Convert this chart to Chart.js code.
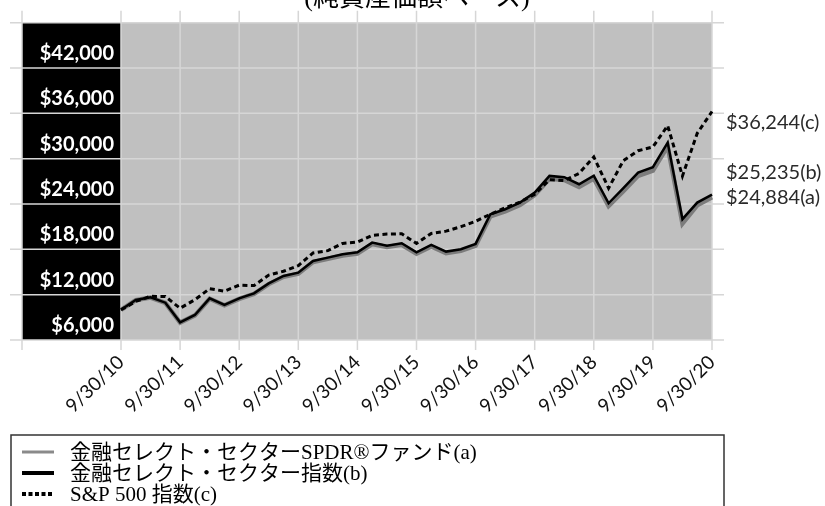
<!DOCTYPE html>
<html lang="ja">
<head>
<meta charset="utf-8">
<script src="https://cdn.jsdelivr.net/npm/chart.js@4.4.1/dist/chart.umd.min.js"></script>
<style>
    html, body { margin: 0; padding: 0; background: #fff; }
    #box { position: relative; width: 825px; height: 506px; }
</style>
</head>
<body>
<div id="box"><canvas id="chart"></canvas></div>
<script>
// quarterly dates, 9/30/10 .. 9/30/20
const QUARTERS = [
    '9/30/10', '12/31/10', '3/31/11', '6/30/11',
    '9/30/11', '12/31/11', '3/31/12', '6/30/12',
    '9/30/12', '12/31/12', '3/31/13', '6/30/13',
    '9/30/13', '12/31/13', '3/31/14', '6/30/14',
    '9/30/14', '12/31/14', '3/31/15', '6/30/15',
    '9/30/15', '12/31/15', '3/31/16', '6/30/16',
    '9/30/16', '12/31/16', '3/31/17', '6/30/17',
    '9/30/17', '12/31/17', '3/31/18', '6/30/18',
    '9/30/18', '12/31/18', '3/31/19', '6/30/19',
    '9/30/19', '12/31/19', '3/31/20', '6/30/20',
    '9/30/20'
];

// (a) fund
const FUND_A = [
    10000, 11280, 11620, 10900,
    8300, 9260, 11460, 10580,
    11450, 12100, 13400, 14370,
    14790, 16320, 16750, 17190,
    17440, 18700, 18300, 18600,
    17420, 18370, 17490, 17790,
    18490, 22380, 23020, 23880,
    25180, 27350, 27170, 26250,
    27370, 23750, 25700, 27740,
    28430, 31630, 21400, 23820,
    24884
];

// (b) sector index
const INDEX_B = [
    10000, 11300, 11650, 10940,
    8340, 9310, 11520, 10640,
    11520, 12180, 13500, 14480,
    14910, 16460, 16900, 17350,
    17610, 18890, 18490, 18800,
    17610, 18580, 17700, 18010,
    18720, 22650, 23310, 24190,
    25510, 27720, 27550, 26620,
    27760, 24100, 26090, 28160,
    28870, 32130, 21990, 24190,
    25235
];

// (c) S&P 500
const SP500_C = [
    10000, 11100, 11780, 11760,
    10200, 11330, 12800, 12460,
    13260, 13200, 14600, 15100,
    15850, 17520, 17830, 18780,
    18960, 19850, 20020, 20060,
    18780, 20110, 20410, 21000,
    21700, 22650, 23500, 24250,
    25300, 27200, 27100, 28050,
    30230, 26100, 29750, 31050,
    31550, 34380, 27700, 33360,
    36244
];

const Y_TICKS = [6000, 12000, 18000, 24000, 30000, 36000, 42000, 48000];
const END_LABELS = ['$24,884(a)', '$25,235(b)', '$36,244(c)'];
const SERIES_NAMES = [
    '金融セレクト・セクターSPDR®ファンド(a)',
    '金融セレクト・セクター指数(b)',
    'S&P 500 指数(c)'
];
const TITLE = '(純資産価額ベース)';

const COLORS = {
    fund: '#7c7c7c',
    index: '#000000',
    sp500: '#000000',
    plot: '#c0c0c0',
    grid: '#d6d6d6'
};

const SERIF = '"Liberation Serif", "Noto Sans CJK JP", serif';

function money(v) {
    return '$' + v.toLocaleString('en-US');
}

// backgrounds, grid, box labels, end labels and the legend box
const decor = {
    id: 'decor',
    beforeDraw(chart) {
        const { ctx, chartArea: a } = chart;
        ctx.save();
        ctx.fillStyle = COLORS.plot;
        ctx.fillRect(a.left, a.top, a.right - a.left, a.bottom - a.top);
        ctx.fillStyle = '#000';
        ctx.fillRect(22, a.top, a.left - 22, a.bottom - a.top);

        ctx.font = '26px ' + SERIF;
        ctx.textAlign = 'center';
        ctx.textBaseline = 'alphabetic';
        ctx.fillText(TITLE, 417, 6);
        ctx.restore();
    },
    beforeDatasetsDraw(chart) {
        const { ctx, chartArea: a, scales: { x, y } } = chart;
        ctx.save();
        ctx.strokeStyle = COLORS.grid;
        ctx.lineWidth = 1.5;
        ctx.beginPath();
        Y_TICKS.forEach(v => {
            const py = y.getPixelForValue(v);
            ctx.moveTo(10, py);
            ctx.lineTo(a.right + 12, py);
        });
        QUARTERS.forEach((q, i) => {
            if (!q.startsWith('9/30')) return;
            const px = x.getPixelForValue(i);
            ctx.moveTo(px, a.top - 12);
            ctx.lineTo(px, a.bottom + 10);
        });
        ctx.moveTo(22, a.top - 12);
        ctx.lineTo(22, a.bottom + 10);
        ctx.stroke();
        ctx.restore();
    },
    afterDraw(chart) {
        const { ctx, chartArea: a, scales: { y } } = chart;
        ctx.save();

        // white labels in the black column
        ctx.fillStyle = '#fff';
        ctx.font = 'bold 20px Lato, sans-serif';
        ctx.textAlign = 'right';
        ctx.textBaseline = 'alphabetic';
        Y_TICKS.slice(0, -1).forEach(v => {
            ctx.fillText(money(v), a.left - 7, y.getPixelForValue(v) - 8);
        });

        // values at the right end
        ctx.fillStyle = '#2a2a2a';
        ctx.font = '20px Lato, sans-serif';
        ctx.textAlign = 'left';
        ctx.textBaseline = 'middle';
        const last = QUARTERS.length - 1;
        const shift = [0, -22, 11];
        [FUND_A, INDEX_B, SP500_C].forEach((serie, i) => {
            ctx.fillText(END_LABELS[i], a.right + 14, y.getPixelForValue(serie[last]) + shift[i]);
        });

        // legend box
        ctx.strokeStyle = '#333';
        ctx.lineWidth = 1.5;
        ctx.strokeRect(11, 435, 713, 90);
        const rows = [452, 473, 494];
        const styles = [
            { color: '#8a8a8a', width: 3, dash: [] },
            { color: '#000', width: 4, dash: [] },
            { color: '#000', width: 4, dash: [4, 2.5] }
        ];
        ctx.font = '21px ' + SERIF;
        ctx.fillStyle = '#000';
        rows.forEach((ry, i) => {
            ctx.beginPath();
            ctx.setLineDash(styles[i].dash);
            ctx.strokeStyle = styles[i].color;
            ctx.lineWidth = styles[i].width;
            ctx.moveTo(22, ry);
            ctx.lineTo(54, ry);
            ctx.stroke();
            ctx.setLineDash([]);
            ctx.fillText(SERIES_NAMES[i], 70, ry + 1);
        });
        ctx.restore();
    }
};

new Chart(document.getElementById('chart'), {
    type: 'line',
    data: {
        labels: QUARTERS,
        datasets: [
            {
                label: SERIES_NAMES[0],
                data: FUND_A,
                borderColor: COLORS.fund,
                borderWidth: 4.5,
                order: 3
            },
            {
                label: SERIES_NAMES[1],
                data: INDEX_B,
                borderColor: COLORS.index,
                borderWidth: 2.5,
                order: 2
            },
            {
                label: SERIES_NAMES[2],
                data: SP500_C,
                borderColor: COLORS.sp500,
                borderWidth: 3,
                borderDash: [5, 3.5],
                order: 1
            }
        ]
    },
    options: {
        responsive: true,
        maintainAspectRatio: false,
        animation: false,
        elements: {
            point: { radius: 0 },
            line: { tension: 0, borderCapStyle: 'butt', borderJoinStyle: 'miter' }
        },
        layout: {
            padding: { left: 121, right: 113, top: 22.7, bottom: 0 }
        },
        plugins: {
            legend: { display: false },
            tooltip: { enabled: false }
        },
        scales: {
            x: {
                grid: { display: false },
                border: { display: false },
                ticks: {
                    autoSkip: false,
                    maxRotation: 44,
                    minRotation: 44,
                    padding: 3,
                    color: '#111',
                    font: { family: 'Lato', size: 19 },
                    callback(value) {
                        const q = QUARTERS[value];
                        return q.startsWith('9/30') ? q : '';
                    }
                },
                afterFit(scale) {
                    scale.height = 166;
                }
            },
            y: {
                min: Y_TICKS[0],
                max: Y_TICKS[Y_TICKS.length - 1],
                grid: { display: false },
                border: { display: false },
                ticks: { display: false, stepSize: 6000 },
                afterFit(scale) {
                    scale.width = 0;
                }
            }
        }
    },
    plugins: [decor]
});
</script>
</body>
</html>
